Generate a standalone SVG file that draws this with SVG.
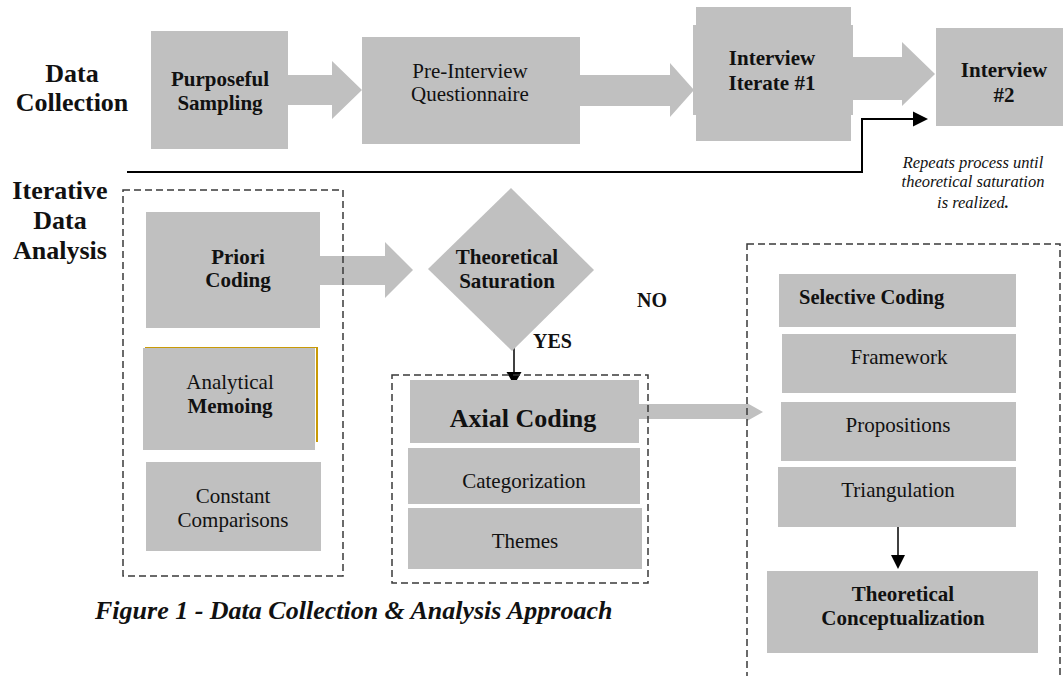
<svg xmlns="http://www.w3.org/2000/svg" width="1064" height="676" viewBox="0 0 1064 676">
  <style>
    .box { fill: #c0c0c0; }
    .flow { fill: #c0c0c0; }
    .frame { fill: none; stroke: #3a3a3a; stroke-width: 1.5; stroke-dasharray: 7 4; }
    .wire { fill: none; stroke: #000; stroke-width: 2; }
    .thin { fill: none; stroke: #000; stroke-width: 1.5; }
    .head { fill: #000; }
    text { font-family: "Liberation Serif", "Times New Roman", serif; fill: #111; }
    .c { text-anchor: middle; }
    .b { font-weight: bold; }
    .r { font-size: 21px; }
    .big { font-size: 26px; font-weight: bold; }
    .note { font-size: 16.5px; font-style: italic; }
    .cap { font-size: 26px; font-weight: bold; font-style: italic; }
  </style>

  <rect width="1064" height="676" fill="#fff"/>

  <!-- section headings -->
  <g id="label-data-collection">
    <text class="big c" x="72" y="82">Data</text>
    <text class="big c" x="72" y="111">Collection</text>
  </g>
  <g id="label-iterative-analysis">
    <text class="big c" x="60" y="199">Iterative</text>
    <text class="big c" x="60" y="229">Data</text>
    <text class="big c" x="60" y="259">Analysis</text>
  </g>

  <!-- connectors: block arrows and line arrows -->
  <g id="connectors">
    <polygon class="flow" points="288,75 332,75 332,61 362,90 332,119 332,105 288,105"/>
    <polygon class="flow" points="580,75 670,75 670,63 694,90 670,117 670,106 580,106"/>
    <polygon class="flow" points="853,57 902,57 902,42 935,74 902,106 902,100 853,100"/>
    <polygon class="flow" points="320,256 385,256 385,242 413,270 385,298 385,285 320,285"/>
    <polygon class="flow" points="639,404 747,404 747,403 763,412 747,421 747,419 639,419"/>

    <!-- feedback loop back to the next interview -->
    <polyline class="wire" points="127,172 862,172 862,119 914,119"/>
    <polygon class="head" points="913,111.5 928,119 913,126.5"/>

    <!-- YES branch -->
    <line class="thin" x1="514" y1="348" x2="514" y2="373"/>
    <polygon class="head" points="506.5,372 521.5,372 514,385"/>

    <!-- triangulation to conceptualization -->
    <line class="thin" x1="898" y1="527" x2="898" y2="556"/>
    <polygon class="head" points="891,555 905,555 898,569"/>
  </g>

  <!-- data collection row -->
  <g id="purposeful-sampling">
    <rect class="box" x="151" y="31" width="137" height="118"/>
    <text class="r b c" x="220" y="86">Purposeful</text>
    <text class="r b c" x="220" y="110">Sampling</text>
  </g>
  <g id="pre-interview-questionnaire">
    <rect class="box" x="362" y="37" width="218" height="107"/>
    <text class="r c" x="470" y="78">Pre-Interview</text>
    <text class="r c" x="470" y="101">Questionnaire</text>
  </g>
  <g id="interview-iterate-1">
    <rect class="box" x="696" y="7" width="155" height="134"/>
    <rect class="box" x="693" y="25" width="160" height="90"/>
    <text class="r b c" x="772" y="65">Interview</text>
    <text class="r b c" x="772" y="90">Iterate #1</text>
  </g>
  <g id="interview-2">
    <rect class="box" x="936" y="28" width="127" height="98"/>
    <text class="r b c" x="1004" y="77">Interview</text>
    <text class="r b c" x="1004" y="102">#2</text>
  </g>
  <g id="repeat-note">
    <text class="note c" x="973" y="168">Repeats process until</text>
    <text class="note c" x="973" y="187">theoretical saturation</text>
    <text class="note c" x="973" y="208">is realized<tspan font-weight="bold">.</tspan></text>
  </g>

  <!-- open coding column -->
  <g id="priori-coding">
    <rect class="box" x="146" y="212" width="174" height="116"/>
    <text class="r b c" x="238" y="264">Priori</text>
    <text class="r b c" x="238" y="287">Coding</text>
  </g>
  <g id="analytical-memoing">
    <rect class="box" x="143" y="348" width="172" height="102"/>
    <line x1="145" y1="347.5" x2="318" y2="347.5" stroke="#c99a06" stroke-width="1"/>
    <line x1="317" y1="347" x2="317" y2="442" stroke="#c99a06" stroke-width="2"/>
    <text class="r c" x="230" y="389">Analytical</text>
    <text class="r b c" x="230" y="413">Memoing</text>
  </g>
  <g id="constant-comparisons">
    <rect class="box" x="146" y="462" width="175" height="89"/>
    <text class="r c" x="233" y="503">Constant</text>
    <text class="r c" x="233" y="527">Comparisons</text>
  </g>

  <!-- decision -->
  <g id="theoretical-saturation">
    <polygon class="box" points="511,188 594,270 512,351 428,269"/>
    <text class="r b c" x="507" y="264">Theoretical</text>
    <text class="r b c" x="507" y="288">Saturation</text>
  </g>
  <g id="label-yes">
    <text class="b" font-size="20" x="533" y="348">YES</text>
  </g>
  <g id="label-no">
    <text class="b" font-size="20" x="637" y="307">NO</text>
  </g>

  <!-- axial coding column -->
  <g id="axial-coding">
    <rect class="box" x="410" y="380" width="229" height="63"/>
    <text class="big c" x="523" y="427">Axial Coding</text>
  </g>
  <g id="categorization">
    <rect class="box" x="408" y="448" width="232" height="56"/>
    <text class="r c" x="524" y="488">Categorization</text>
  </g>
  <g id="themes">
    <rect class="box" x="408" y="508" width="234" height="61"/>
    <text class="r c" x="525" y="548">Themes</text>
  </g>

  <!-- selective coding column -->
  <g id="selective-coding">
    <rect class="box" x="779" y="274" width="237" height="53"/>
    <text class="b" font-size="20.5" x="799" y="304">Selective Coding</text>
  </g>
  <g id="framework">
    <rect class="box" x="782" y="334" width="234" height="59"/>
    <text class="r c" x="899" y="364">Framework</text>
  </g>
  <g id="propositions">
    <rect class="box" x="781" y="402" width="235" height="59"/>
    <text class="r c" x="898" y="432">Propositions</text>
  </g>
  <g id="triangulation">
    <rect class="box" x="778" y="467" width="238" height="60"/>
    <text class="r c" x="898" y="497">Triangulation</text>
  </g>
  <g id="theoretical-conceptualization">
    <rect class="box" x="767" y="571" width="271" height="82"/>
    <text class="r b c" x="903" y="601">Theoretical</text>
    <text class="r b c" x="903" y="625">Conceptualization</text>
  </g>

  <!-- dashed phase frames -->
  <g id="frames">
    <rect class="frame" x="123" y="190" width="220" height="386"/>
    <rect class="frame" x="392" y="375" width="256" height="208"/>
    <rect class="frame" x="747" y="244" width="313" height="460"/>
  </g>

  <g id="caption">
    <text class="cap" x="95" y="619">Figure 1 - Data Collection &amp; Analysis Approach</text>
  </g>
</svg>
